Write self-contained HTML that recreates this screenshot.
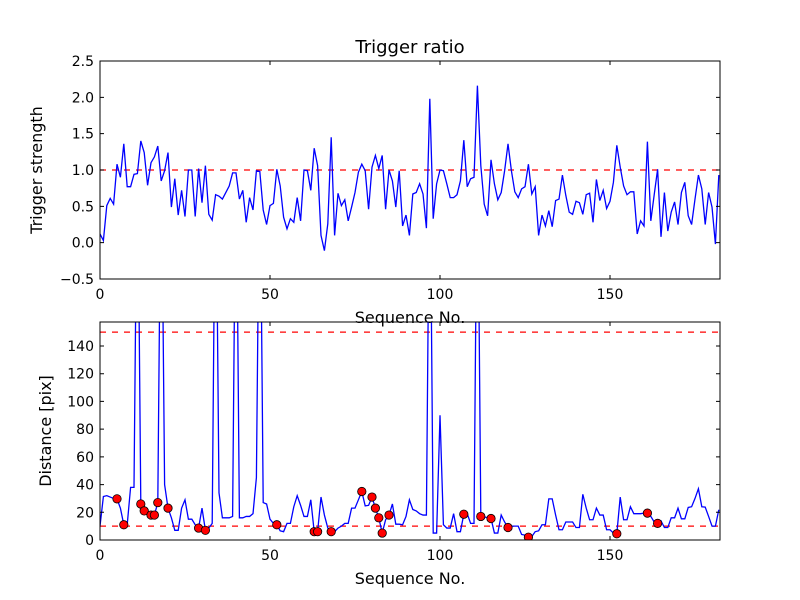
<!DOCTYPE html>
<html><head><meta charset="utf-8"><style>
html,body{margin:0;padding:0;background:#fff;}
svg{display:block;font-family:"DejaVu Sans","Liberation Sans",sans-serif;}
</style></head><body>
<svg id="fig" width="800" height="600" viewBox="0 0 800 600"></svg>
<script>
const strength = [0.12,0.03,0.51,0.61,0.53,1.08,0.9,1.36,0.77,0.77,0.94,0.95,1.40,1.24,0.79,1.1,1.18,1.33,0.85,0.99,1.24,0.49,0.88,0.38,0.72,0.36,1.0,1.0,0.36,1.02,0.55,1.06,0.39,0.31,0.66,0.64,0.6,0.69,0.78,0.96,0.96,0.6,0.72,0.28,0.62,0.45,0.99,0.98,0.45,0.25,0.51,0.54,1.01,0.78,0.35,0.19,0.33,0.28,0.62,0.30,1.0,0.99,0.72,1.3,1.06,0.1,-0.11,0.26,1.45,0.1,0.68,0.51,0.59,0.3,0.49,0.69,0.97,1.08,0.99,0.46,1.04,1.2,1.02,1.2,0.46,1.0,0.85,0.49,0.99,0.23,0.38,0.1,0.67,0.69,0.81,0.67,0.2,1.98,0.33,0.81,1.0,0.99,0.81,0.62,0.62,0.66,0.85,1.41,0.77,0.88,0.9,2.16,1.06,0.53,0.37,1.14,0.81,0.59,0.69,0.99,1.36,0.99,0.7,0.62,0.74,0.77,1.08,0.67,0.77,0.1,0.38,0.23,0.44,0.22,0.58,0.6,0.93,0.65,0.42,0.39,0.57,0.55,0.39,0.66,0.68,0.28,0.87,0.58,0.72,0.47,0.57,0.83,1.34,1.04,0.78,0.66,0.7,0.7,0.12,0.3,0.23,1.39,0.3,0.66,1.01,0.08,0.69,0.16,0.42,0.56,0.25,0.69,0.83,0.37,0.25,0.6,0.93,0.74,0.25,0.69,0.49,-0.02,0.93];
const distance = [10,31.4,32,31,30,29.7,23,11,11,38,38,300,26,21,18.6,18,18,27,300,40,23,16,7,7,23,29,15,15,11,8.6,23,7,8.6,12,300,34,16,16,16,17,300,16,16,17,17,19,45,300,27,26,15,12,11,6.6,6,12,12,24,32,25,17,17,29,6,6,31,18,8.6,6,6,8.6,10,12,12,23,23,29,35,24.6,25,31,23,16,5,14.6,18,26,11.4,11.4,11,17,29,22,21,19,18,18,300,5,5,90,11,8.6,8.6,19,6,6,18.6,19,12,12,300,17,16.8,16,15.5,5,5,18,13,9,10,10,10,4,3.5,2,2.5,6,6.6,11,11,29.7,29.7,18,7.4,7.4,13,13,13,9,9,33,23,14.6,14.6,23,18,18,7.4,7.4,5,4.5,31,14.6,14.6,24,19,19,19,19.4,19.4,17,13,12,13.8,9,9,16,16,23,15.3,15.3,23.5,24,30,37,24,23.7,17,10,10,21.8];
const markedIdx = [5,7,12,13,15,16,17,20,29,31,52,63,64,68,77,80,81,82,83,85,107,112,115,120,126,152,161,164];
const xTicks = [0,50,100,150];
const topYTicks = [-0.5,0.0,0.5,1.0,1.5,2.0,2.5];
const botYTicks = [0,20,40,60,80,100,120,140];
const topThreshold = [1.0];
const botThresholds = [10,150];

const NS = "http://www.w3.org/2000/svg";
const svg = document.getElementById('fig');
function el(tag, attrs, parent){const e=document.createElementNS(NS,tag);for(const k in attrs)e.setAttribute(k,attrs[k]);(parent||svg).appendChild(e);return e;}

const L=100,R=720,XMAX=182.35;
const xs = v => L + v/XMAX*(R-L);

function axes(cfg){
  const {top,bottom,ymin,ymax,name} = cfg;
  const ys = v => bottom - (v-ymin)/(ymax-ymin)*(bottom-top);
  const g = el('g',{});
  
  
  const cid = 'clip-'+name;
  const cp = el('clipPath',{id:cid},g); el('rect',{x:L,y:top,width:R-L,height:bottom-top},cp);
  return {g,ys,cid,cfg};
}
function frame(ax){
  const {g,ys,cfg}=ax; const {top,bottom,yTicks,fmt,ylabel,ylabelX,xlabelY,title}=cfg;
  for(const t of xTicks){
    const x=xs(t);
    const tk=el('path',{d:`M${x},${bottom}v-4M${x},${top}v4`,stroke:'#000','stroke-width':1},g);
    
    
    const tl=el('text',{x:x,y:bottom+20,'text-anchor':'middle','font-size':14},g); tl.textContent=t;
    
    
  }
  for(const t of yTicks){
    const y=ys(t);
    const tk=el('path',{d:`M${L},${y}h4M${R},${y}h-4`,stroke:'#000','stroke-width':1},g);
    
    
    const tl=el('text',{x:L-6,y:y+5,'text-anchor':'end','font-size':14},g); tl.textContent=fmt(t);
    
    
  }
  const fr=el('rect',{x:L,y:top,width:R-L,height:bottom-top,fill:'none',stroke:'#000','stroke-width':1},g);
  
  
  const yl=el('text',{x:ylabelX,y:(top+bottom)/2,'text-anchor':'middle','font-size':16,transform:`rotate(-90 ${ylabelX} ${(top+bottom)/2})`},g); yl.textContent=ylabel;
  
  
  const xl=el('text',{x:(L+R)/2,y:xlabelY,'text-anchor':'middle','font-size':16},g); xl.textContent='Sequence No.';
  
  
  if(title){const tt=el('text',{x:(L+R)/2,y:top-8,'text-anchor':'middle','font-size':18},g); tt.textContent=title;
    
    }
}
function series(ax,data){
  const {g,ys,cid}=ax;
  const d=data.map((v,i)=>(i?'L':'M')+xs(i).toFixed(2)+','+ys(v).toFixed(2)).join('');
  const p=el('path',{d,fill:'none',stroke:'#0000ff','stroke-width':1.3,'clip-path':`url(#${cid})`},g);
  
  
}
function hline(ax,v){
  const {g,ys,cid}=ax;
  const p=el('line',{x1:L,x2:R,y1:ys(v),y2:ys(v),stroke:'#ff0000','stroke-width':1.3,'stroke-dasharray':'6,6','clip-path':`url(#${cid})`},g);
  
  
}
const mfmt = v => v.toFixed(1).replace('-','\u2212');

const a1 = axes({top:61,bottom:279,ymin:-0.5,ymax:2.5,yTicks:topYTicks,fmt:mfmt,name:'trigger-ratio-panel',ylabel:'Trigger strength',ylabelX:42,xlabelY:323,title:'Trigger ratio'});
for(const t of topThreshold) hline(a1,t);
series(a1,strength);
frame(a1);

const a2 = axes({top:322,bottom:540,ymin:0,ymax:157.3,yTicks:botYTicks,fmt:v=>String(v),name:'distance-panel',ylabel:'Distance [pix]',ylabelX:51,xlabelY:584});
for(const t of botThresholds) hline(a2,t);
series(a2,distance);
for(const i of markedIdx){
  const c=el('circle',{cx:xs(i),cy:a2.ys(distance[i]),r:4.2,fill:'#ff0000',stroke:'#000','stroke-width':0.8,'clip-path':`url(#${a2.cid})`},a2.g);
  
  
}
frame(a2);
</script>
</body></html>
